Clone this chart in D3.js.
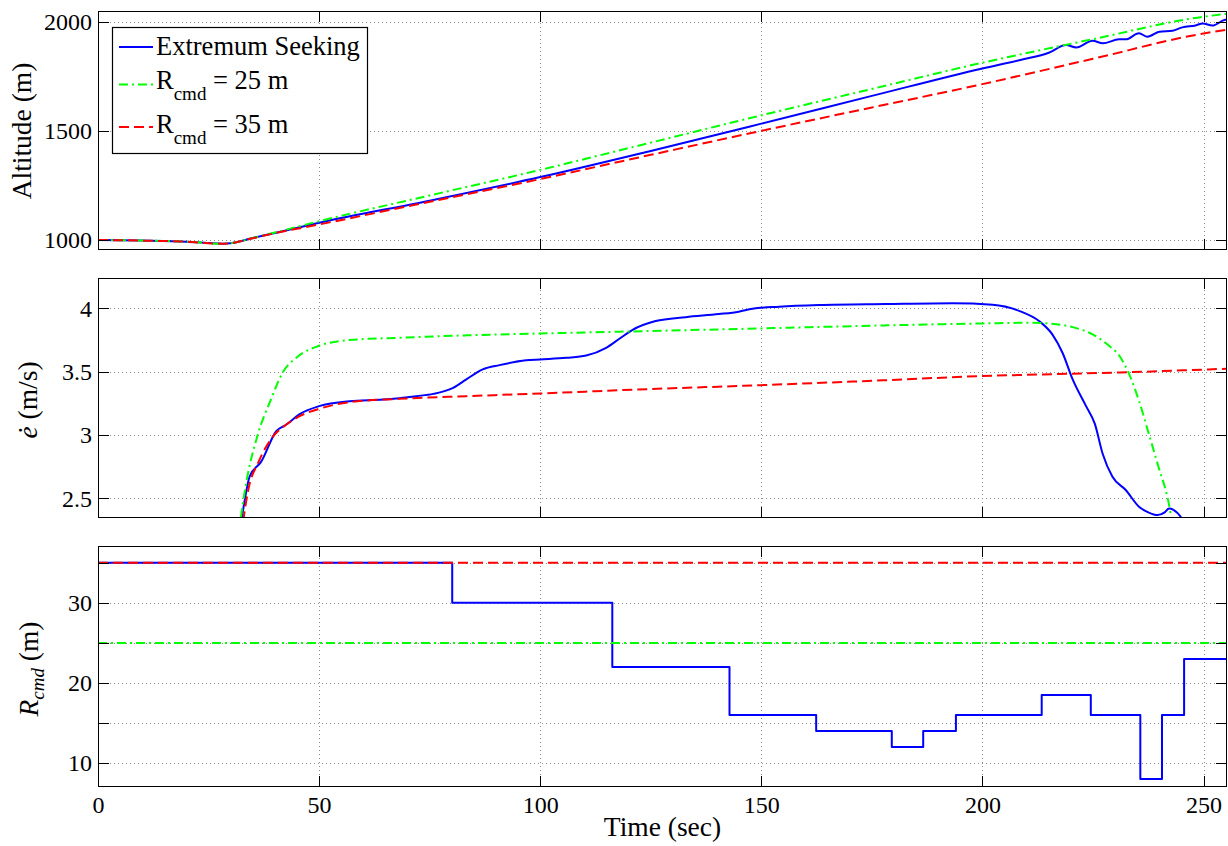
<!DOCTYPE html>
<html>
<head>
<meta charset="utf-8">
<script src="https://cdn.jsdelivr.net/npm/d3@7"></script>
<style>
  body { margin: 0; background: #fff; }
  svg { display: block; }
  svg text { font-family: "Liberation Serif", "DejaVu Serif", "Noto Serif", serif; }
  .grid { stroke: #8c8c8c; stroke-width: 1; stroke-dasharray: 1,3; shape-rendering: crispEdges; }
  .frame { fill: none; stroke: #000; stroke-width: 1.2; shape-rendering: crispEdges; }
  .axis line { stroke: #000; shape-rendering: crispEdges; }
  .axis path { display: none; }
</style>
</head>
<body>
<script>
// ---- data ----
var timeTicks = [0, 50, 100, 150, 200, 250];
var altTicks = [1000, 1500, 2000];
var rateTicks = [2.5, 3, 3.5, 4];
var radiusTicks = [10, 15, 20, 25, 30, 35];
var radiusLabelled = [10, 20, 30];

// altitude (m)
var altTimeFixed = [0, 10, 20, 28, 30, 35, 40, 50, 75, 100, 125, 150, 175, 200, 225, 250, 255.3];
var altR25 = [1000, 997, 992, 983, 985, 1009, 1034, 1086, 1204, 1321, 1446, 1571, 1692, 1812, 1920, 2023, 2036];
var altR35 = [1000, 997, 992, 983, 985, 1008, 1031, 1071, 1175, 1279, 1390, 1500, 1607, 1714, 1830, 1946, 1963];
var altTimeES = [0, 10, 20, 28, 30, 35, 40, 50, 75, 100, 125, 150, 175, 200, 209, 215, 218.9, 221.2, 224.9, 227.2, 230.9, 232.4, 235.4, 237.3, 240, 243, 245.2, 248.2, 249.8, 252, 254.7, 255.3];
var altES = [1000, 997, 992, 983, 985, 1009, 1032, 1079, 1180, 1288, 1408, 1533, 1660, 1786, 1827, 1858, 1893, 1882, 1913, 1901, 1919, 1919, 1947, 1931, 1954, 1959, 1974, 1983, 1992, 1982, 2008, 2010];

// e-dot (m/s)
var rateTimeES = [32.2, 32.6, 33.2, 34.3, 36.9, 40.3, 42.6, 45.6, 50, 56.9, 64.5, 72, 75.8, 80.3, 83.3, 87, 90.8, 96.8, 100, 105.9, 110.4, 114.9, 117.9, 120.8, 126.1, 132.9, 140.4, 144.9, 148, 154, 163, 178.2, 193.3, 202.3, 208.4, 212.8, 215.8, 218.1, 220.4, 223.4, 225.4, 227.2, 229.4, 232.4, 235.4, 237.5, 239.6, 241.2, 242.2, 243.2, 245.1, 246.5];
var rateES = [2.2, 2.35, 2.49, 2.674, 2.79, 3.03, 3.083, 3.165, 3.228, 3.267, 3.28, 3.307, 3.325, 3.373, 3.44, 3.518, 3.552, 3.59, 3.597, 3.61, 3.628, 3.689, 3.76, 3.829, 3.9, 3.931, 3.955, 3.974, 3.997, 4.013, 4.026, 4.034, 4.04, 4.029, 3.979, 3.9, 3.795, 3.65, 3.439, 3.23, 3.09, 2.85, 2.67, 2.566, 2.434, 2.39, 2.368, 2.39, 2.42, 2.41, 2.341, 2.25];
var rateTimeR25 = [31.8, 32.5, 33.4, 36.1, 39.1, 41.7, 45.2, 50, 56.8, 68.1, 83.3, 100, 117.9, 150, 178.2, 200, 211.3, 215.1, 220.4, 224.9, 228.7, 231, 233.2, 235.4, 237.7, 239.9, 241.9, 242.8, 243.8];
var rateR25 = [2.2, 2.4, 2.6, 3.0, 3.28, 3.49, 3.62, 3.705, 3.75, 3.768, 3.787, 3.802, 3.816, 3.842, 3.866, 3.881, 3.887, 3.881, 3.852, 3.795, 3.703, 3.624, 3.479, 3.27, 3.0, 2.738, 2.5, 2.34, 2.2];
var rateTimeR35 = [32.4, 33, 34, 36.2, 39.6, 42.6, 45.6, 50, 56.9, 68.2, 83.3, 100, 117.9, 150, 178.2, 200, 212.9, 233.9, 255.3];
var rateR35 = [2.2, 2.36, 2.57, 2.78, 2.99, 3.083, 3.149, 3.207, 3.26, 3.286, 3.307, 3.328, 3.354, 3.394, 3.433, 3.466, 3.478, 3.497, 3.524];

// R_cmd (m)
var radiusTimeES = [0, 80.1, 116.3, 142.8, 162.4, 179.5, 186.6, 194, 213.4, 224.5, 235.7, 240.6, 245.6, 255.3];
var radiusES = [35, 30, 22, 16, 14, 12, 14, 16, 18.5, 16, 8, 16, 23, 23];
var radiusTimeFixed = [0, 255.3];
var radiusR25 = [25, 25];
var radiusR35 = [35, 35];

var seriesNames = ["Extremum Seeking", "R", "R"];
var seriesSub = ["", "cmd", "cmd"];
var seriesTail = ["", " = 25 m", " = 35 m"];

// ---- styles ----
var styles = [
	{ color: "#0000ff", dash: null },
	{ color: "#00ff00", dash: "9,4,2,4" },
	{ color: "#ff0000", dash: "10,5" }
];

var size = { width: 1228, height: 846 };
var plotLeft = 98, plotRight = 1227;
var tickLen = 11;

var svg = d3.select("body")
	.append("svg")
	.attr("width", size.width)
	.attr("height", size.height);

var x = d3.scaleLinear().domain([0, 255.3]).range([plotLeft, plotRight]);

function zip(ts, vs) {
	return ts.map(function(t, i) { return [t, vs[i]]; });
}

function drawPanel(p, idx) {
	var y = d3.scaleLinear().domain(p.domain).range([p.bottom, p.top]);
	var g = svg.append("g");

	// grid
	g.selectAll("line.vgrid").data(timeTicks).enter().append("line")
		.attr("class", "grid")
		.attr("x1", function(d) { return Math.round(x(d)) + 0.5; })
		.attr("x2", function(d) { return Math.round(x(d)) + 0.5; })
		.attr("y1", p.top).attr("y2", p.bottom);
	g.selectAll("line.hgrid").data(p.ticks).enter().append("line")
		.attr("class", "grid")
		.attr("x1", plotLeft).attr("x2", plotRight)
		.attr("y1", function(d) { return Math.round(y(d)) + 0.5; })
		.attr("y2", function(d) { return Math.round(y(d)) + 0.5; });

	// clip
	var clipId = "clip" + idx;
	svg.append("clipPath").attr("id", clipId)
		.append("rect")
		.attr("x", plotLeft).attr("y", p.top)
		.attr("width", plotRight - plotLeft).attr("height", p.bottom - p.top);

	var line = d3.line()
		.x(function(d) { return x(d[0]); })
		.y(function(d) { return y(d[1]); })
		.curve(p.curve);

	var lines = g.append("g").attr("clip-path", "url(#" + clipId + ")");
	p.series.forEach(function(s, i) {
		lines.append("path")
			.datum(s)
			.attr("d", line)
			.attr("fill", "none")
			.attr("stroke", styles[i].color)
			.attr("stroke-width", 2)
			.attr("stroke-dasharray", styles[i].dash)
			.attr("stroke-linejoin", "round");
	});

	// axes, ticks pointing inward on all sides
	var fmtX = p.xLabels ? d3.format("d") : function() { return ""; };
	g.append("g").attr("class", "axis")
		.attr("transform", "translate(0," + p.bottom + ")")
		.call(d3.axisBottom(x).tickValues(timeTicks).tickSizeInner(-tickLen).tickSizeOuter(0).tickPadding(9).tickFormat(fmtX));
	g.append("g").attr("class", "axis")
		.attr("transform", "translate(0," + p.top + ")")
		.call(d3.axisTop(x).tickValues(timeTicks).tickSizeInner(-tickLen).tickSizeOuter(0).tickFormat(function() { return ""; }));
	g.append("g").attr("class", "axis")
		.attr("transform", "translate(" + plotLeft + ",0)")
		.call(d3.axisLeft(y).tickValues(p.ticks).tickSizeInner(-tickLen).tickSizeOuter(0).tickPadding(6).tickFormat(p.yFormat));
	g.append("g").attr("class", "axis")
		.attr("transform", "translate(" + plotRight + ",0)")
		.call(d3.axisRight(y).tickValues(p.ticks).tickSizeInner(-tickLen).tickSizeOuter(0).tickFormat(function() { return ""; }));

	g.selectAll(".axis text")
		.attr("font-size", 24)
		.attr("fill", "#000");

	g.append("rect")
		.attr("class", "frame")
		.attr("x", plotLeft + 0.5).attr("y", p.top + 0.5)
		.attr("width", plotRight - plotLeft - 1).attr("height", p.bottom - p.top - 1);

	return g;
}

var panels = [
	{
		top: 11, bottom: 250, domain: [954, 2049], ticks: altTicks,
		yFormat: d3.format("d"), curve: d3.curveMonotoneX, xLabels: false,
		series: [zip(altTimeES, altES), zip(altTimeFixed, altR25), zip(altTimeFixed, altR35)]
	},
	{
		top: 278, bottom: 518, domain: [2.345, 4.24], ticks: rateTicks,
		yFormat: function(d) { return String(d); }, curve: d3.curveMonotoneX, xLabels: false,
		series: [zip(rateTimeES, rateES), zip(rateTimeR25, rateR25), zip(rateTimeR35, rateR35)]
	},
	{
		top: 546, bottom: 787, domain: [7, 37.1], ticks: radiusTicks,
		yFormat: function(d) { return radiusLabelled.indexOf(d) >= 0 ? String(d) : ""; },
		curve: d3.curveStepAfter, xLabels: true,
		series: [zip(radiusTimeES, radiusES), zip(radiusTimeFixed, radiusR25), zip(radiusTimeFixed, radiusR35)]
	}
];

panels.forEach(drawPanel);

// ---- axis labels ----
var labelSize = 27.5;

function yLabel(cx, cy) {
	return svg.append("text")
		.attr("transform", "translate(" + cx + "," + cy + ") rotate(-90)")
		.attr("text-anchor", "middle")
		.attr("font-size", labelSize)
		.attr("fill", "#000");
}

yLabel(31, 131).text("Altitude (m)");

var l2 = yLabel(37, 400);
l2.append("tspan").attr("font-style", "italic").text("\u0117");
l2.append("tspan").text(" (m/s)");

var l3 = yLabel(38, 669);
l3.append("tspan").attr("font-style", "italic").text("R");
l3.append("tspan").attr("font-style", "italic").attr("font-size", 19).attr("dy", 6).text("cmd");
l3.append("tspan").attr("dy", -6).text("  (m)");

svg.append("text")
	.attr("x", (plotLeft + plotRight) / 2)
	.attr("y", 836)
	.attr("text-anchor", "middle")
	.attr("font-size", labelSize)
	.attr("fill", "#000")
	.text("Time (sec)");

// ---- legend ----
var legend = svg.append("g");
legend.append("rect")
	.attr("x", 112.5).attr("y", 27.5)
	.attr("width", 255).attr("height", 126)
	.attr("fill", "#fff").attr("stroke", "#000").attr("stroke-width", 1.2);

var legendRowY = [47, 84.5, 127];
var legendTextShift = [8, 4, 6];

seriesNames.forEach(function(name, i) {
	legend.append("line")
		.attr("x1", 119).attr("x2", 153)
		.attr("y1", legendRowY[i]).attr("y2", legendRowY[i])
		.attr("stroke", styles[i].color)
		.attr("stroke-width", 2)
		.attr("stroke-dasharray", styles[i].dash);
	var t = legend.append("text")
		.attr("x", 156)
		.attr("y", legendRowY[i] + legendTextShift[i])
		.attr("font-size", 26.5)
		.attr("fill", "#000");
	t.append("tspan").text(name);
	if (seriesSub[i]) {
		t.append("tspan").attr("font-size", 19).attr("dy", 11).text(seriesSub[i]);
		t.append("tspan").attr("dy", -11).text(seriesTail[i]);
	}
});
</script>
</body>
</html>
